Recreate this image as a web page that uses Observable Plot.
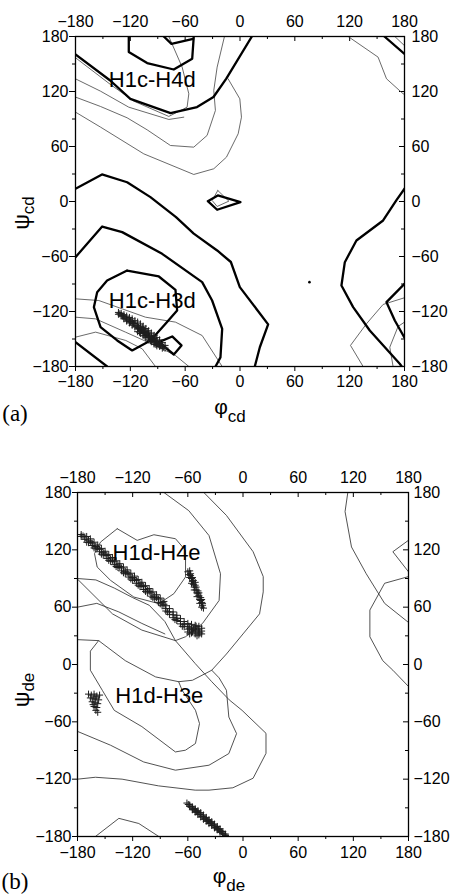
<!DOCTYPE html>
<html><head><meta charset="utf-8">
<script src="https://cdn.jsdelivr.net/npm/d3@7"></script>
<script src="https://cdn.jsdelivr.net/npm/@observablehq/plot@0.6"></script>
<style>body{margin:0;background:#fff;} #fig{width:452px;} #fig svg{display:block;}</style>
</head><body><div id="fig"></div>
<script>
// ---------- tick values ----------
const angleTicks = [-180, -120, -60, 0, 60, 120, 180];
const minorTicks = [-150, -90, -30, 30, 90, 150];

// ---------- panel (a): thick contours [phi, psi] ----------
const aA = [[-180,160.4],[-142,132],[-120,112],[-76,96.4],[-47,103],[-29,114],[-15,134],[13,180]];
const aA2 = [[158,180],[180,161]];
const aTop = [[-121.7,180],[-121.7,163],[-101.6,151],[-72.5,144],[-52.3,155.7],[-50.6,180]];
const aNotch = [[-83.4,180],[-75,172],[-51.3,177.5]];
const aB = [[-180,13.9],[-151,29.5],[-123.5,21],[-98,4.8],[-70,-17],[-50.6,-35],[-25,-53.4],[-10,-66],[-0.2,-93.4],[30.8,-134],[21.7,-159],[16.2,-180]];
const aD = [[180,14],[171.2,1.5],[156.6,-20.7],[127.4,-42.5],[114.7,-66.2],[111,-91.6],[123.8,-115.2],[142,-140.7],[174.8,-177],[177,-180]];
const aC = [[-180,-60.7],[-150.8,-27.3],[-128.9,-33.4],[-85.2,-57.1],[-41.4,-88],[-30.5,-108],[-19.5,-139],[-21.4,-170],[-26.8,-180]];
const aE = [[-123.5,-75.3],[-88.8,-81.8],[-70.6,-96.3],[-68.8,-118.9],[-81.5,-133.4],[-97.9,-151.6],[-118,-162.5],[-134.4,-151.6],[-152.6,-137.1],[-159.9,-115.3],[-156.3,-98.9],[-145.4,-86.2],[-123.5,-75.3]];
const aF = [[-88.8,-153.4],[-74.2,-147.2],[-64,-157],[-72.4,-166.9],[-88.8,-153.4]];
const aG = [[180,-89.8],[160.3,-109.8],[169.4,-129.8],[180,-148.7]];
const aH = [[-180,-153.4],[-145.4,-180]];
const aSmall = [[-35.2,0.4],[-24.3,6.6],[0.5,-0.7],[-25,-9],[-35.2,0.4]];

// ---------- panel (a): thin contours ----------
const aT1 = [[-180,156.8],[-141.8,127.7],[-116.2,109.5],[-77.9,92.8],[-57.9,102.9],[-56,117.5],[-63.3,146.6],[-77.9,180]];
const aT2 = [[-180,133.8],[-152.7,120.4],[-121.7,102.9],[-77.9,89.5],[-61.5,92]];
const aT3 = [[-180,113.9],[-152.7,103.7],[-123.5,91.3],[-101.6,78.2],[-76.1,61.1],[-50.6,59.3],[-36,72.1],[-26.9,99.3],[-28.7,121.1],[-25,146.6],[-17,180]];
const aT4 = [[-180,97.5],[-152.7,81.2],[-105.3,52],[-50.6,29.5],[-28.7,35.7],[-14.8,48.4],[-2,73.9],[1.6,92],[-0.2,112],[-13,133.8]];
const aTf = [[118.3,180],[151.1,157.5],[160.3,133.9],[178.5,117.5],[180,117]];
const aTg = [[169.4,180],[180,170]];
const aTa = [[-180,-106.2],[-154.5,-108],[-103.4,-126.2],[-70.6,-131.6],[-41.4,-146.2],[-19.5,-180]];
const aTb = [[-180,-126.2],[-158.1,-128],[-125.3,-142.5],[-88.8,-158.9],[-70.6,-168],[-56,-180]];
const aTc = [[-180,-148],[-158,-142.5],[-125,-151.6],[-107,-160.7],[-92.5,-180]];
const aTd = [[180,-105],[156.6,-112.3],[138.4,-133.4],[120.9,-157],[134.7,-180]];
const aTe = [[180,-131.6],[173,-136.3],[163.9,-158.9],[167.5,-180]];
const aTsmall = [[-24.3,12],[-12.2,0.4],[-25,-5.4],[-30.5,1.1],[-24.3,12]];

// ---------- panel (a): sampled conformations ----------
const aCluster = [[-133,-121],[-133,-123],[-130,-122],[-130,-124.5],[-127,-123.5],[-127,-126],[-127,-128],
[-124,-125],[-124,-128],[-124,-130.5],[-121,-126.5],[-121,-129.5],[-121,-132.5],
[-118,-128],[-118,-131.5],[-118,-135],[-115,-130],[-115,-133.5],[-115,-137],
[-112,-131.5],[-112,-135.5],[-112,-139],[-112,-142],[-109,-133.5],[-109,-137],[-109,-141],[-109,-144],
[-106,-136],[-106,-139.5],[-106,-143],[-106,-146],[-103,-138.5],[-103,-142],[-103,-145.5],[-103,-148.5],
[-100,-141],[-100,-144.5],[-100,-148],[-100,-151],[-97,-143.5],[-97,-147],[-97,-150.5],[-97,-153],
[-94,-146],[-94,-149.5],[-94,-153],[-94,-155.5],[-91,-148.5],[-91,-152],[-91,-155.5],[-91,-157.5],
[-88,-151],[-88,-154.5],[-88,-158],[-85,-154],[-85,-157],[-85,-160],[-82,-157],[-82,-160],
[-131.5,-122.5],[-128.5,-125],[-125.5,-127],[-122.5,-129],[-119.5,-131],[-116.5,-133],[-113.5,-136],[-110.5,-138.5],
[-107.5,-141],[-104.5,-143.5],[-101.5,-146],[-98.5,-148.5],[-95.5,-151],[-92.5,-153.5],[-89.5,-156],[-86.5,-157.5],[-83.5,-159],
[-120,-131],[-117,-133],[-111,-137.5],[-108,-140],[-105,-142],[-102,-144.5],[-99,-147],[-96,-149.5],[-93,-152],[-90,-154.5],[-87,-156],
[-110,-142.5],[-104,-147],[-98,-151.5],[-92,-156],[-107,-137.5],[-101,-142.5],[-95,-147.5]];
const aSpeck = [[76,-88]];
const aLabels = [{name:"H1c-H4d", phi:-96, psi:133}, {name:"H1c-H3d", phi:-96, psi:-109}];

// ---------- panel (b): contours (thin) ----------
const bL1 = [[-136.8,142.1],[-115.1,129.9],[-96.9,135.8],[-73.4,131.6],[-62.5,119.4],[-62.5,91.6],[-75.2,74.1],[-91.5,63.7],[-118.7,70.6],[-144.1,88.1],[-158.6,102],[-161.5,116],[-155,128.1],[-136.8,142.1]];
const bS2 = [[-86,180],[-59,161],[-37,135],[-24.5,95],[-26,67],[-44,43],[-62.6,29],[-73.5,25],[-110,36],[-142,53],[-178.6,88],[-180,89]];
const bS3 = [[-180,60],[-159,64],[-135,55],[-110,43],[-85,32]];
const bS5 = [[-180,90],[-160,88.5],[-140,80],[-120,70],[-102,62],[-85,45],[-73.5,25]];
const bS4 = [[-42.6,180],[-18,156],[11,118],[22,92],[22,76],[18,53],[0,32],[-18,11],[-34,-6],[-55,-16.5],[-70,-18],[-95,-13],[-128,4],[-157,25],[-180,26]];
const bM1 = [[-157,25],[-166,14],[-166,-6],[-153,-27],[-140,-48],[-110,-65],[-73.5,-91.5],[-62.6,-89.7],[-51.7,-82.7],[-47.3,-61.8],[-51.7,-47.9],[-66.2,-27],[-70,-18]];
const bZ2 = [[-180,-70],[-144,-84.5],[-108,-102],[-73.5,-110.6],[-37,-105.4],[-15.4,-93.2],[-7,-72.3],[-15.4,-55],[-18,-27],[-26,-14],[-34,-6]];
const bZ3 = [[-73.5,25],[-52,1],[-34,-18],[-15,-37],[-1,-48],[25,-72],[25,-93],[11,-119],[-11,-129],[-37,-131.5],[-52,-131.5],[-92,-127],[-131.5,-120],[-160.5,-118],[-180,-120]];
const bHump = [[-160.5,-180],[-135,-161],[-113.3,-166.4],[-91.6,-180]];
const bR1 = [[180,92],[154,85],[138,57],[138,29],[152,4],[163,-6],[180,-23]];
const bR2 = [[114,180],[111,160],[118,123],[134,95],[154,64],[180,44]];
const bR3 = [[180,130],[163,118],[180,97]];

// ---------- panel (b): sampled conformations ----------
const bBand = [[-176,136],[-176,134],[-172,133.5],[-172,131],[-168,130],[-168,127.5],[-164,127],[-164,124.5],
[-160,123.5],[-160,121],[-156,120.5],[-156,118],[-152,117],[-152,114.5],[-148,114],[-148,111],[-144,110.5],[-144,108],
[-140,107.5],[-140,104.5],[-136,104],[-136,101.5],[-132,101],[-132,98],[-128,97.5],[-128,95],[-124,94.5],[-124,91.5],
[-120,91],[-120,88],[-116,88],[-116,85],[-112,84.5],[-112,81.5],[-108,81.5],[-108,78.5],[-104,78],[-104,75],
[-100,75],[-100,71.5],[-96,71.5],[-96,68.5],[-92,68.5],[-92,65],[-88,65],[-88,61.5],[-84,61.5],[-84,58.5],[-84,56],
[-80,58.5],[-80,55],[-80,52.5],[-76,55],[-76,52],[-76,49],[-72,51.5],[-72,48.5],[-72,46],[-68,48],[-68,45],[-68,42.5],
[-64,45],[-64,42],[-64,39.5],[-60,43],[-60,40],[-60,37],[-60,34],[-56,42],[-56,39],[-56,36],[-56,33],
[-52,41],[-52,38],[-52,35],[-52,32],[-48,40],[-48,37],[-48,34],[-48,31],[-45,38],[-45,35],[-45,32],
[-174,134.5],[-166,128.5],[-158,122],[-150,115.5],[-142,109],[-134,102.5],[-126,96],[-118,89.5],[-110,83],[-102,76.5],[-94,70],[-86,63],
[-170,134],[-166,131.5],[-162,128],[-158,125],[-154,121.5],[-150,118.5],[-146,115],[-142,112],[-138,108.5],[-134,105.5],[-130,102],
[-126,99],[-122,95.5],[-118,92.5],[-114,89],[-110,86],[-106,82.5],[-102,79.5],[-98,76],[-94,73],[-90,69.5],[-86,66],
[-170,128],[-162,122],[-154,115.5],[-146,109],[-138,102.5],[-130,96],[-122,89.5],[-114,83],[-106,76.5],[-98,70],[-90,63.5],
[-82,55],[-74,47],[-66,40],[-58,32],[-50,30],[-58,38],[-54,37],[-50,36],[-47,33],[-55,34],[-51,40]];
const bShort = [[-60,97],[-58,98],[-59,94],[-57,93],[-56,90],[-58,91],[-55,87],[-54,84],[-56,85],[-53,81],[-51,78],[-53,78],
[-50,75],[-48,72],[-50,71],[-47,68],[-45,65],[-47,64],[-44,62],[-43,59],[-45,60],[-46,67],[-52,83],[-49,74],
[-57,95],[-55,91],[-54,88],[-52,86],[-51,81],[-49,77],[-48,75],[-46,70],[-45,68],[-44,64]];
const bBlob = [[-168,-31],[-165,-32],[-162,-31],[-159,-33],[-156,-32],[-166,-35],[-163,-36],[-160,-36],[-157,-37],
[-164,-39],[-161,-40],[-158,-41],[-162,-44],[-159,-45],[-160,-48],[-158,-50],[-161,-34],[-163,-42]];
const bLow = [[-61,-145],[-58,-147],[-58,-148.5],[-55,-149],[-55,-150.5],[-55,-152],[-52,-151],[-52,-152.5],[-52,-154.5],
[-49,-153],[-49,-155],[-49,-157],[-46,-155],[-46,-157],[-46,-159.5],[-43,-157.5],[-43,-159.5],[-43,-162],
[-40,-160],[-40,-162],[-40,-164],[-37,-162.5],[-37,-164],[-37,-166.5],[-34,-164.5],[-34,-166.5],[-34,-168.5],
[-31,-167],[-31,-169],[-31,-171],[-28,-169.5],[-28,-171.5],[-28,-173],[-25,-172],[-25,-174],[-25,-175.5],
[-22,-175],[-22,-177],[-19,-177.5],[-19,-179],
[-59.5,-146.5],[-56.5,-149],[-53.5,-151.5],[-50.5,-154],[-47.5,-156.5],[-44.5,-159],[-41.5,-161],[-38.5,-163.5],
[-35.5,-165.5],[-32.5,-168],[-29.5,-170.5],[-26.5,-172.5],[-23.5,-175],[-20.5,-177.5]];
const bLabels = [{name:"H1d-H4e", phi:-94, psi:117}, {name:"H1d-H3e", phi:-91, psi:-32.5}];

// ---------- helpers ----------
const toRows = (list) => list.flatMap(([id, pts]) => pts.map(([phi, psi]) => ({id, phi, psi})));
const toPts = (pts) => pts.map(([phi, psi]) => ({phi, psi}));
const SANS = "Liberation Sans, Arial, Helvetica, sans-serif";

function panel(cfg) {
  const innerW = cfg.width - cfg.ml - cfg.mr;
  const innerH = cfg.height - cfg.mt - cfg.mb;
  const marks = [
    Plot.ruleX(angleTicks, {x: d => d, insetBottom: innerH - 5, stroke: "black"}),
    Plot.ruleX(minorTicks, {x: d => d, insetBottom: innerH - 3, stroke: "black"}),
    Plot.ruleY(angleTicks, {y: d => d, insetLeft: innerW - 5, stroke: "black"}),
    Plot.ruleY(minorTicks, {y: d => d, insetLeft: innerW - 3, stroke: "black"}),
    Plot.axisX({anchor: "bottom", ticks: angleTicks, tickSize: 5, tickPadding: cfg.padB, label: null}),
    Plot.axisX({anchor: "bottom", ticks: minorTicks, tickSize: 3, tickFormat: () => "", label: null}),
    Plot.axisX({anchor: "top", ticks: angleTicks, tickSize: 0, tickPadding: cfg.padT, label: null}),
    Plot.axisY({anchor: "left", ticks: angleTicks, tickSize: cfg.tickL, tickPadding: 1, label: null}),
    Plot.axisY({anchor: "left", ticks: minorTicks, tickSize: 3, tickFormat: () => "", label: null}),
    Plot.axisY({anchor: "right", ticks: angleTicks, tickSize: 0, tickPadding: cfg.padR, label: null}),
  ];
  if (cfg.thin) marks.push(Plot.line(toRows(cfg.thin), {x: "phi", y: "psi", z: "id", stroke: cfg.thinColor, strokeWidth: cfg.thinWidth, clip: true}));
  if (cfg.thick) marks.push(Plot.line(toRows(cfg.thick), {x: "phi", y: "psi", z: "id", stroke: "black", strokeWidth: 2.3, strokeLinejoin: "round", clip: true}));
  for (const c of cfg.clusters) marks.push(Plot.dot(toPts(c), {x: "phi", y: "psi", symbol: "plus", r: 2.4, stroke: "#1e1e1e", strokeWidth: 1, clip: true}));
  if (cfg.specks) marks.push(Plot.dot(toPts(cfg.specks), {x: "phi", y: "psi", r: 1.3, fill: "black"}));
  marks.push(Plot.text(cfg.labels, {x: "phi", y: "psi", text: "name", fontSize: 22, fontFamily: SANS, fill: "black"}));
  marks.push(Plot.frame({stroke: "black", strokeWidth: 1.3}));
  return Plot.plot({
    width: cfg.width, height: cfg.height,
    marginTop: cfg.mt, marginRight: cfg.mr, marginBottom: cfg.mb, marginLeft: cfg.ml,
    x: {domain: [-180, 180], axis: null},
    y: {domain: [-180, 180], axis: null},
    style: {fontFamily: SANS, fontSize: "16px", background: "white", color: "black"},
    marks
  });
}

const svgA = panel({
  width: 452, height: 440, mt: 36, mr: 48, mb: 74, ml: 75,
  padB: 4, padT: 10, padR: 7, tickL: 6,
  thick: [["A", aA], ["A2", aA2], ["Top", aTop], ["Notch", aNotch], ["B", aB], ["D", aD], ["C", aC], ["E", aE], ["F", aF], ["G", aG], ["H", aH], ["S", aSmall]],
  thin: [["T1", aT1], ["T2", aT2], ["T3", aT3], ["T4", aT4], ["Tf", aTf], ["Tg", aTg], ["Ta", aTa], ["Tb", aTb], ["Tc", aTc], ["Td", aTd], ["Te", aTe], ["Ts", aTsmall]],
  thinColor: "#444", thinWidth: 0.8,
  clusters: [aCluster], specks: aSpeck, labels: aLabels
});
const svgB = panel({
  width: 452, height: 455, mt: 52, mr: 44, mb: 59, ml: 77,
  padB: 5, padT: 10, padR: 5, tickL: 5,
  thin: [["L1", bL1], ["S2", bS2], ["S3", bS3], ["S5", bS5], ["S4", bS4], ["M1", bM1], ["Z2", bZ2], ["Z3", bZ3], ["Hump", bHump], ["R1", bR1], ["R2", bR2], ["R3", bR3]],
  thinColor: "#333", thinWidth: 0.85,
  clusters: [bBand, bShort, bBlob, bLow], labels: bLabels
});

function annotate(svg, tag, tagY, sub, symX, symY, subDy, ylabX, ylabY, ysub) {
  const s = d3.select(svg);
  s.append("text").attr("x", 15).attr("y", tagY).attr("font-family", "Liberation Serif, Times New Roman, serif").attr("font-size", 23).attr("fill", "black").text(tag);
  const t = s.append("text").attr("x", symX).attr("y", symY).attr("font-family", SANS).attr("font-size", 21).attr("fill", "black").text("φ");
  t.append("tspan").attr("font-size", 17).attr("dy", subDy).text(sub);
  const u = s.append("text").attr("transform", `translate(${ylabX},${ylabY}) rotate(-90)`).attr("font-family", SANS).attr("font-size", 22).attr("fill", "black").text("ψ");
  u.append("tspan").attr("font-size", 17).attr("dy", 5).text(ysub);
}
annotate(svgA, "(a)", 421, "cd", 230, 414, 8, 29, 213, "cd");
annotate(svgB, "(b)", 449, "de", 229, 443, 8, 29, 250, "de");

document.getElementById("fig").append(svgA, svgB);
</script></body></html>
